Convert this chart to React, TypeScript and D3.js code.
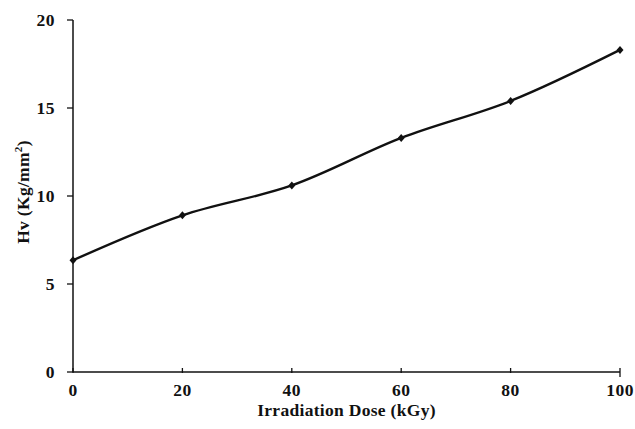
import React from "react";
import * as d3 from "d3";

const doses = [0, 20, 40, 60, 80, 100];
const hardness = [6.35, 8.9, 10.6, 13.3, 15.4, 18.3];
const xTicks = [0, 20, 40, 60, 80, 100];
const yTicks = [0, 5, 10, 15, 20];

const W = 635, H = 429;
const M = { left: 73, right: 15, top: 20, bottom: 57 };

export default function App() {
  const x = d3.scaleLinear().domain([0, 100]).range([M.left, W - M.right]);
  const y = d3.scaleLinear().domain([0, 20]).range([H - M.bottom, M.top]);
  const pts: [number, number][] = doses.map((d, i) => [x(d), y(hardness[i])]);
  const line = d3.line().curve(d3.curveCatmullRom.alpha(0.5))(pts) || "";
  const font = "'Liberation Serif', 'Times New Roman', serif";
  const y0 = y(0);
  return (
    <svg width={W} height={H} style={{ position: "absolute", left: 0, top: 0, background: "#fff" }}>
      <g fontFamily={font} fontWeight="bold" fill="#111">
        <line x1={x(0)} x2={x(0)} y1={y(20)} y2={y0} stroke="#111" strokeWidth={1.5} />
        <line x1={x(0)} x2={x(100)} y1={y0} y2={y0} stroke="#111" strokeWidth={1.5} />
        {yTicks.map((t) => (
          <g key={"y" + t}>
            <line x1={x(0) - 6} x2={x(0)} y1={y(t)} y2={y(t)} stroke="#111" strokeWidth={1.3} />
            <text x={55} y={y(t)} dy="0.35em" textAnchor="end" fontSize={17.5} letterSpacing={0.5}>{t}</text>
          </g>
        ))}
        {xTicks.map((t) => (
          <g key={"x" + t}>
            <line x1={x(t)} x2={x(t)} y1={y0 - 4} y2={y0 + (t === 100 ? 5 : 1)} stroke="#111" strokeWidth={1.3} />
            <text x={x(t)} y={396} textAnchor="middle" fontSize={17.5} letterSpacing={0.5}>{t}</text>
          </g>
        ))}
        <text x={(x(0) + x(100)) / 2} y={416} textAnchor="middle" fontSize={17.5} letterSpacing={0.3}>Irradiation Dose (kGy)</text>
        <text transform={`translate(29, ${y(10) - 4}) rotate(-90)`} textAnchor="middle" fontSize={17.5} letterSpacing={0.3}>
          Hv (Kg/mm<tspan dy="-7" fontSize={11}>2</tspan><tspan dy="7">)</tspan>
        </text>
        <path d={line} fill="none" stroke="#111" strokeWidth={2.4} />
        {pts.map(([px, py], i) => (
          <path key={i} d={`M${px},${py - 4}L${px + 3.5},${py}L${px},${py + 4}L${px - 3.5},${py}Z`} fill="#111" />
        ))}
      </g>
    </svg>
  );
}
